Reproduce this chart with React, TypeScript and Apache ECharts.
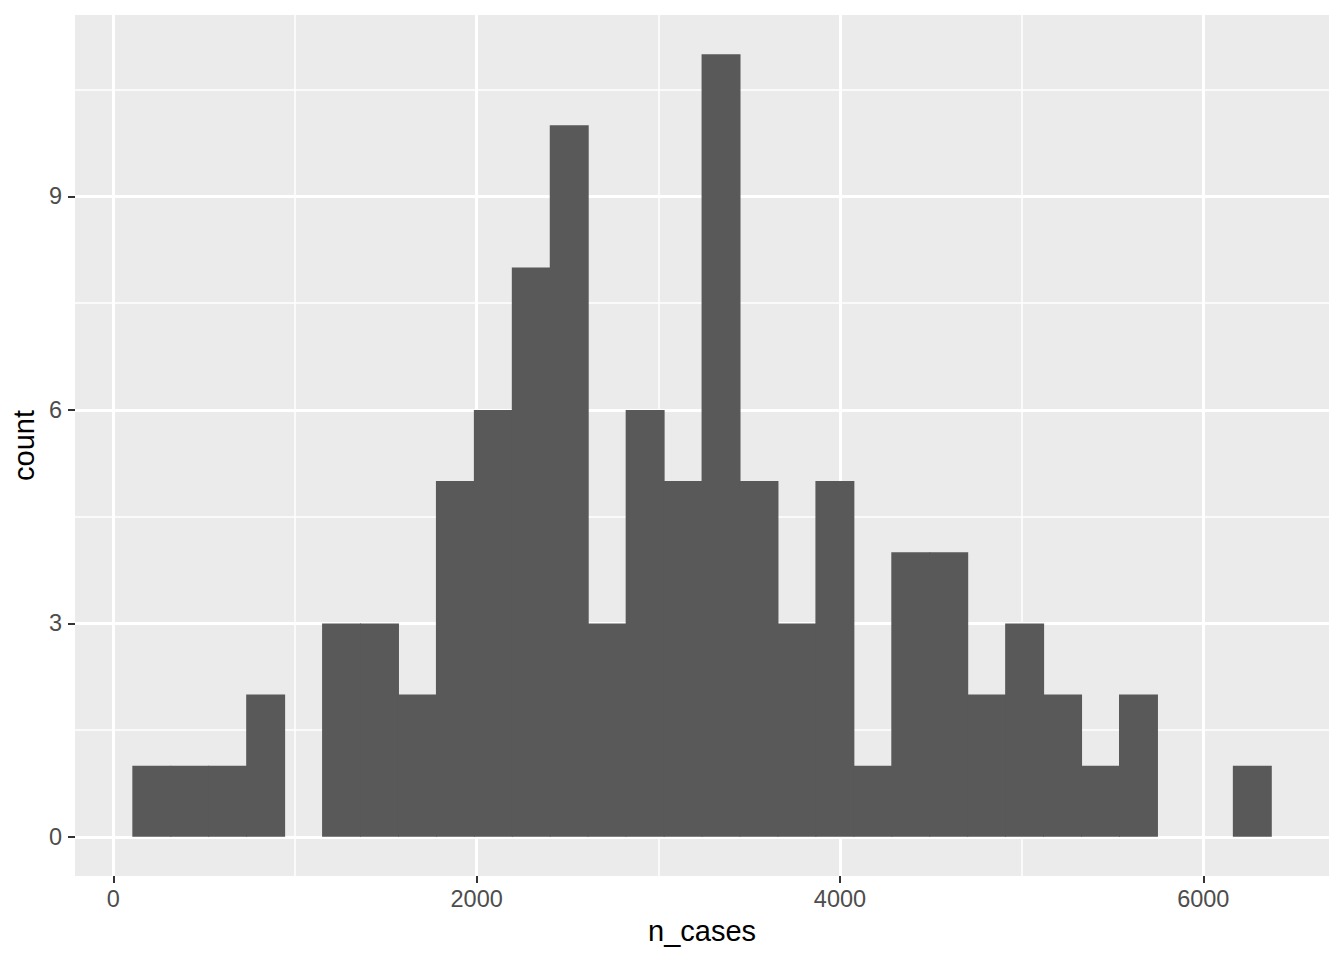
import { useEffect, useRef } from "react";
import * as echarts from "echarts";

// histogram of n_cases, 30 bins
const binStart = 104.6;
const binWidth = 208.9;
const binCounts = [1, 1, 1, 2, 0, 3, 3, 2, 5, 6, 8, 10, 3, 6, 5, 11, 5, 3, 5, 1, 4, 4, 2, 3, 2, 1, 2, 0, 0, 1];

const xTicks = [0, 2000, 4000, 6000];
const xMinorTicks = [1000, 3000, 5000];
const yTicks = [0, 3, 6, 9];
const yMinorTicks = [1.5, 4.5, 7.5, 10.5];

const xRange = [-211, 6692];
const yRange = [-0.55, 11.55];

const FONT = "'Liberation Sans', Arial, Helvetica, sans-serif";

export default function App() {
  const chartRef = useRef<HTMLDivElement>(null);

  useEffect(() => {
    document.body.style.margin = "0";
    if (!chartRef.current) return;
    const chart = echarts.init(chartRef.current, null, { renderer: "svg" });

    // each bin -> [left edge, right edge, count]
    const bins = binCounts.map((c, i) => [binStart + i * binWidth, binStart + (i + 1) * binWidth, c]);

    const tickLabel = { color: "#4D4D4D", fontSize: 23.5, fontFamily: FONT };
    const tickStyle = { color: "#333333", width: 2 };

    const option = {
      animation: false,
      grid: {
        left: 75,
        right: 15,
        top: 15,
        bottom: 84,
        show: true,
        backgroundColor: "#EBEBEB",
        borderWidth: 0,
        containLabel: false,
        outerBoundsMode: "none",
      },
      xAxis: [
        {
          type: "value",
          min: xRange[0],
          max: xRange[1],
          name: "n_cases",
          nameLocation: "middle",
          nameGap: 40,
          nameTextStyle: { color: "#000000", fontSize: 29, fontFamily: FONT },
          axisLine: { show: false, onZero: false },
          axisTick: { show: true, length: 7, lineStyle: tickStyle, customValues: xTicks },
          axisLabel: { ...tickLabel, margin: 11, customValues: xTicks, formatter: (v: number) => String(v) },
          splitLine: { show: true, lineStyle: { color: "#FFFFFF", width: 3 } },
        },
        {
          type: "value",
          min: xRange[0],
          max: xRange[1],
          position: "top",
          axisLine: { show: false },
          axisTick: { show: false, customValues: xMinorTicks },
          axisLabel: { show: false },
          splitLine: { show: true, lineStyle: { color: "#FFFFFF", width: 1.5 } },
        },
      ],
      yAxis: [
        {
          type: "value",
          min: yRange[0],
          max: yRange[1],
          name: "count",
          nameLocation: "middle",
          nameRotate: 90,
          nameGap: 36,
          nameTextStyle: { color: "#000000", fontSize: 29, fontFamily: FONT },
          axisLine: { show: false, onZero: false },
          axisTick: { show: true, length: 7, lineStyle: tickStyle, customValues: yTicks },
          axisLabel: { ...tickLabel, margin: 13, customValues: yTicks },
          splitLine: { show: true, lineStyle: { color: "#FFFFFF", width: 3 } },
        },
        {
          type: "value",
          min: yRange[0],
          max: yRange[1],
          position: "right",
          axisLine: { show: false },
          axisTick: { show: false, customValues: yMinorTicks },
          axisLabel: { show: false },
          splitLine: { show: true, lineStyle: { color: "#FFFFFF", width: 1.5 } },
        },
      ],
      series: [
        {
          type: "custom",
          xAxisIndex: 0,
          yAxisIndex: 0,
          data: bins,
          encode: { x: [0, 1], y: 2 },
          renderItem: (_params: any, api: any) => {
            if (api.value(2) <= 0) return null;
            const top = api.coord([api.value(0), api.value(2)]);
            const bottom = api.coord([api.value(1), 0]);
            // overlap neighbours by a pixel so no anti-aliased seam shows between bins
            return {
              type: "rect",
              shape: { x: top[0], y: top[1], width: bottom[0] - top[0] + 1, height: bottom[1] - top[1] },
              style: { fill: "#595959" },
            };
          },
        },
      ],
    };

    chart.setOption(option);
    return () => {
      chart.dispose();
    };
  }, []);

  return <div ref={chartRef} style={{ width: "1344px", height: "960px" }}></div>;
}
